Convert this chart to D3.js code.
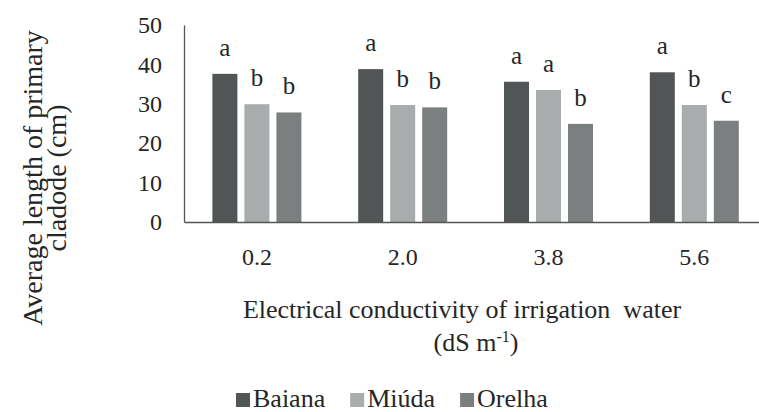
<!DOCTYPE html>
<html>
<head>
<meta charset="utf-8">
<script src="https://cdn.jsdelivr.net/npm/d3@7"></script>
<style>
  html, body { margin: 0; padding: 0; background: #fff; }
  svg, svg text { font-family: "Liberation Serif", "Times New Roman", serif; }
</style>
</head>
<body>
<svg id="chart" width="759" height="412"></svg>
<script>
const categories = ["0.2", "2.0", "3.8", "5.6"];
const seriesNames = ["Baiana", "Miúda", "Orelha"];
const baiana = [37.6, 38.8, 35.6, 38.0];
const miuda  = [29.9, 29.7, 33.5, 29.7];
const orelha = [27.8, 29.1, 24.9, 25.7];
const letters = [["a","b","b"],["a","b","b"],["a","a","b"],["a","b","c"]];
const yTicks = [0, 10, 20, 30, 40, 50];
const colors = ["#515556", "#a9acac", "#7c7f7f"];

const seriesValues = [baiana, miuda, orelha];
const rows = categories.map((c, i) => ({
  cat: c,
  vals: seriesNames.map((s, j) => ({ s, j, v: seriesValues[j][i], l: letters[i][j] }))
}));

const FONT = '"Liberation Serif", "Times New Roman", serif';
const svg = d3.select("#chart");
const textColor = "#262626";
const axisColor = "#555";

const x0 = d3.scaleBand().domain(categories).range([184, 767.2]).paddingInner(0).paddingOuter(0);
const x1 = d3.scaleBand().domain(seriesNames).range([0, x0.bandwidth()]).paddingInner(0.219).paddingOuter(0.887);
const y = d3.scaleLinear().domain([0, 50]).range([222, 25]);

// bars
const groups = svg.append("g").selectAll("g").data(rows).join("g")
  .attr("transform", d => `translate(${x0(d.cat)},0)`);
groups.selectAll("rect").data(d => d.vals).join("rect")
  .attr("x", d => x1(d.s))
  .attr("y", d => y(d.v))
  .attr("width", x1.bandwidth())
  .attr("height", d => y(0) - y(d.v))
  .attr("fill", d => colors[d.j]);
groups.selectAll("text").data(d => d.vals).join("text")
  .attr("x", d => x1(d.s) + x1.bandwidth() / 2)
  .attr("y", d => y(d.v) - 18)
  .attr("text-anchor", "middle")
  .attr("font-family", FONT)
  .attr("font-size", 25)
  .attr("fill", textColor)
  .text(d => d.l);

// y axis
const yAxis = svg.append("g").attr("transform", "translate(184,0)")
  .call(d3.axisLeft(y).tickValues(yTicks).tickSize(0).tickSizeOuter(0).tickPadding(22).tickFormat(d3.format("d")));
yAxis.attr("font-family", FONT);
yAxis.select(".domain").attr("stroke", axisColor).attr("stroke-width", 1.3);
yAxis.selectAll("text").attr("font-size", 24).attr("fill", textColor).attr("font-family", FONT);

// x axis
const xAxis = svg.append("g").attr("transform", "translate(0,222)")
  .call(d3.axisBottom(x0).tickSize(0).tickSizeOuter(0).tickPadding(26));
xAxis.attr("font-family", FONT);
xAxis.select(".domain").attr("stroke", axisColor).attr("stroke-width", 1.3);
xAxis.selectAll("text").attr("font-size", 24).attr("fill", textColor).attr("font-family", FONT);

// x title
svg.append("text").attr("x", 462).attr("y", 318).attr("text-anchor", "middle")
  .attr("font-family", FONT).attr("font-size", 26).attr("fill", textColor)
  .attr("xml:space", "preserve").style("white-space", "pre")
  .text("Electrical conductivity of irrigation  water");
const xt2 = svg.append("text").attr("x", 476).attr("y", 351).attr("text-anchor", "middle")
  .attr("font-family", FONT).attr("font-size", 26).attr("fill", textColor);
xt2.append("tspan").text("(dS m");
xt2.append("tspan").attr("font-size", 16).attr("dy", -9).text("-1");
xt2.append("tspan").attr("dy", 9).text(")");

// y title
const yt = svg.append("text").attr("transform", "translate(0,178) rotate(-90)")
  .attr("text-anchor", "middle").attr("font-family", FONT).attr("font-size", 28).attr("fill", textColor);
yt.append("tspan").attr("x", 0).attr("y", 42).text("Average length of primary");
yt.append("tspan").attr("x", 0).attr("y", 66).text("cladode (cm)");

// legend
let lx = 236;
const legend = svg.append("g");
seriesNames.forEach((s, j) => {
  legend.append("rect").attr("x", lx).attr("y", 393).attr("width", 14).attr("height", 14).attr("fill", colors[j]);
  const t = legend.append("text").attr("x", lx + 17).attr("y", 407)
    .attr("font-family", FONT).attr("font-size", 26).attr("fill", textColor).text(s);
  lx += 17 + t.node().getComputedTextLength() + 25;
});
</script>
</body>
</html>
